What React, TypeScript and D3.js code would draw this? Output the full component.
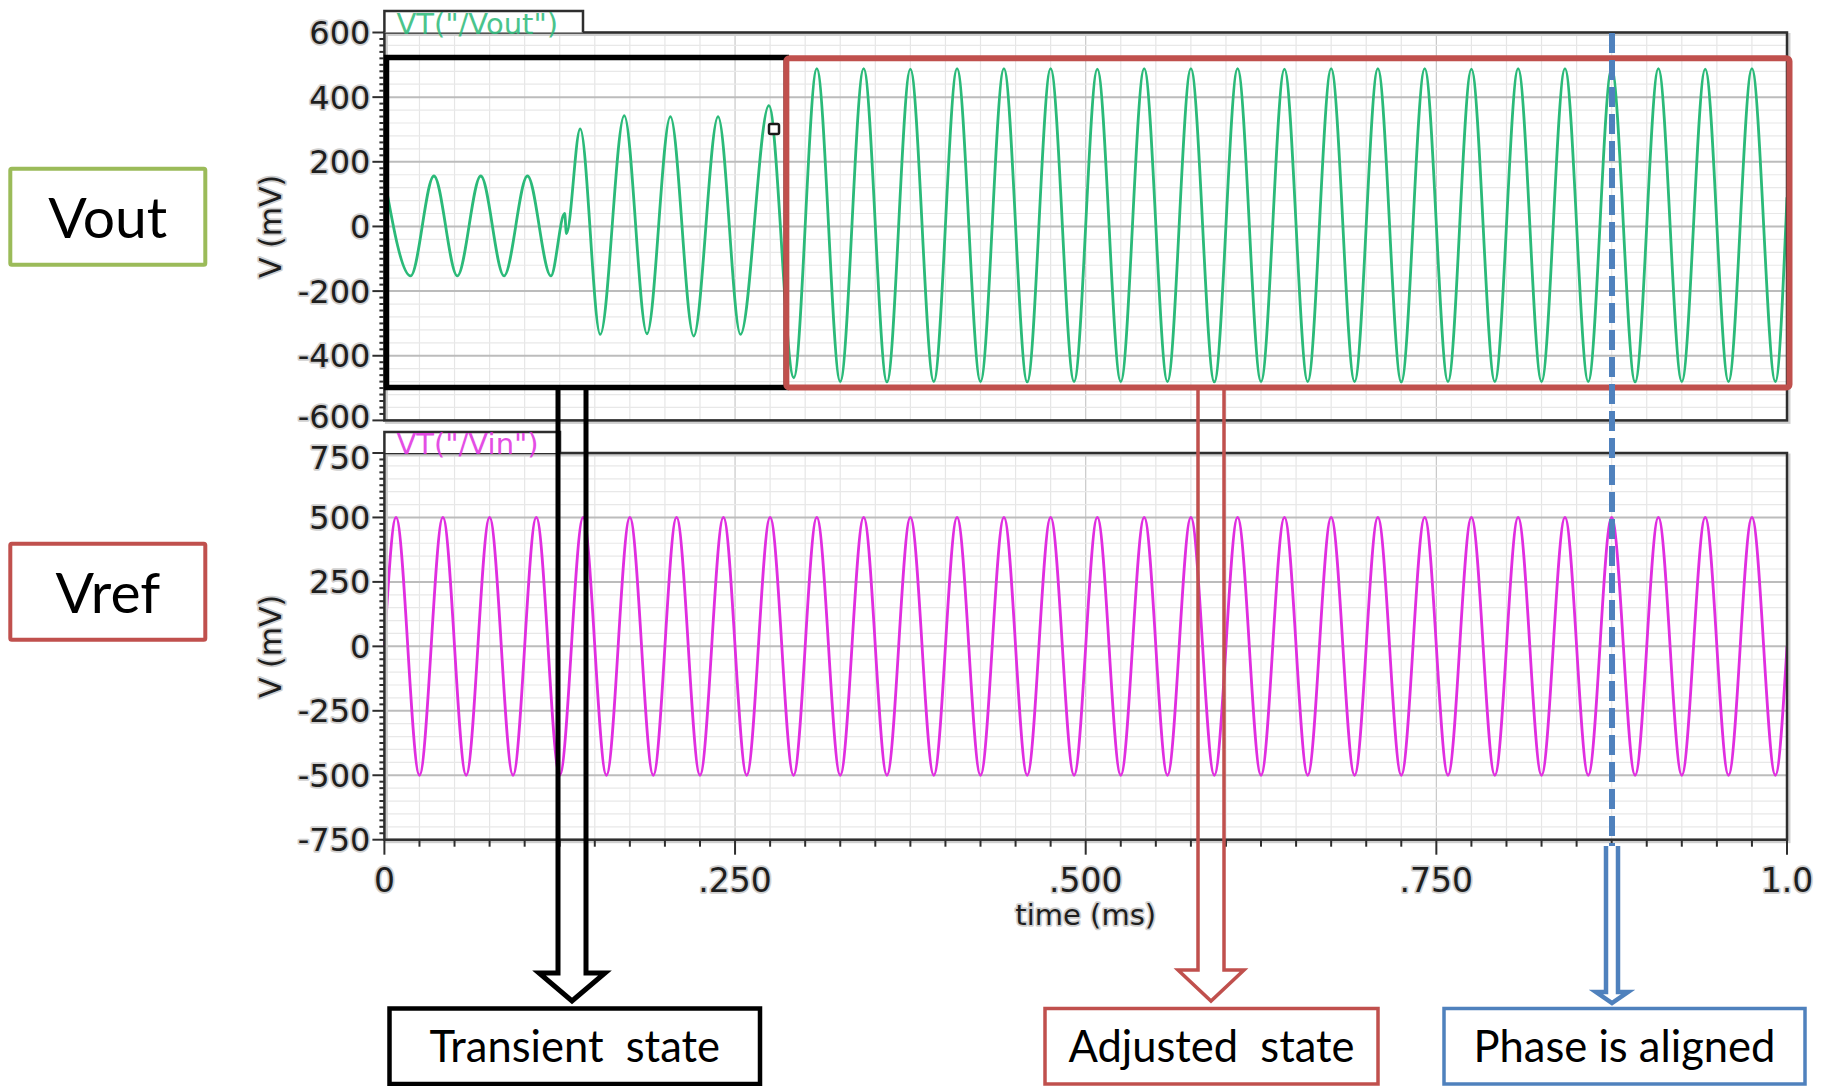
import React from 'react';
import * as d3 from 'd3';

// Vref (VT("/Vin")) : extrema, time in ms, value in mV
const vinTime = [
  0, 0.0083, 0.025, 0.0417, 0.0583, 0.075, 0.0917, 0.1083, 0.125, 0.1417, 0.1583,
  0.175, 0.1917, 0.2083, 0.225, 0.2417, 0.2583, 0.275, 0.2917, 0.3083, 0.325,
  0.3417, 0.3583, 0.375, 0.3917, 0.4083, 0.425, 0.4417, 0.4583, 0.475, 0.4917,
  0.5083, 0.525, 0.5417, 0.5583, 0.575, 0.5917, 0.6083, 0.625, 0.6417, 0.6583,
  0.675, 0.6917, 0.7083, 0.725, 0.7417, 0.7583, 0.775, 0.7917, 0.8083, 0.825,
  0.8417, 0.8583, 0.875, 0.8917, 0.9083, 0.925, 0.9417, 0.9583, 0.975, 0.9917, 1.0,
];
const vinValue = [
  0, 500, -500, 500, -500, 500, -500, 500, -500, 500, -500,
  500, -500, 500, -500, 500, -500, 500, -500, 500, -500,
  500, -500, 500, -500, 500, -500, 500, -500, 500, -500,
  500, -500, 500, -500, 500, -500, 500, -500, 500, -500,
  500, -500, 500, -500, 500, -500, 500, -500, 500, -500,
  500, -500, 500, -500, 500, -500, 500, -500, 500, -500, 0,
];

// Vout (VT("/Vout")) : extrema
const voutTime = [
  0, 0.0187, 0.0353, 0.052, 0.0687, 0.0853, 0.102, 0.1187, 0.1285, 0.1298,
  0.1396, 0.1539, 0.171, 0.1872, 0.2039, 0.2205, 0.2379, 0.2539, 0.2741, 0.2919,
  0.3083, 0.325, 0.3417, 0.3583, 0.375, 0.3917, 0.4083, 0.425, 0.4417, 0.4583,
  0.475, 0.4917, 0.5083, 0.525, 0.5417, 0.5583, 0.575, 0.5917, 0.6083, 0.625,
  0.6417, 0.6583, 0.675, 0.6917, 0.7083, 0.725, 0.7417, 0.7583, 0.775, 0.7917,
  0.8083, 0.825, 0.8417, 0.8583, 0.875, 0.8917, 0.9083, 0.925, 0.9417, 0.9583,
  0.975, 0.9917, 1.0,
];
const voutValue = [
  150, -153, 156, -153, 156, -153, 156, -153, 40, -22,
  302, -334, 343, -332, 340, -339, 340, -334, 374, -468,
  488, -480, 488, -481, 487, -480, 488, -480, 488, -481,
  488, -480, 487, -480, 488, -480, 488, -481, 488, -480,
  487, -480, 488, -480, 488, -481, 488, -480, 487, -480,
  488, -480, 488, -480, 488, -481, 488, -480, 487, -480,
  488, -480, 90,
];

const topTicks = [-600, -400, -200, 0, 200, 400, 600];
const bottomTicks = [-750, -500, -250, 0, 250, 500, 750];
const timeTicks = [0, 0.25, 0.5, 0.75, 1.0];
const timeTickLabels = ['0', '.250', '.500', '.750', '1.0'];
const sideLabels = ['Vout', 'Vref'];
const noteLabels = ['Transient  state', 'Adjusted  state', 'Phase is aligned'];

const W = 1821;
const H = 1086;
const CHART_FONT = '"DejaVu Sans", Verdana, sans-serif';
const NOTE_FONT = 'Lato, "Open Sans", sans-serif';
const GREEN = '#2bba79';
const MAGENTA = '#e02ee0';
const RED = '#c0504d';
const BLUE = '#4f81bd';
const OLIVE = '#9bbb59';

const x = d3.scaleLinear().domain([0, 1]).range([384.4, 1787]);
const yTop = d3.scaleLinear().domain([-600, 600]).range([420.4, 32.5]);
const yBot = d3.scaleLinear().domain([-750, 750]).range([839.7, 453]);

const haloText = {
  fill: '#1e1e1e',
  stroke: '#d0d0d0',
  strokeWidth: 3.5,
  paintOrder: 'stroke' as const,
  strokeLinejoin: 'round' as const,
};

type PanelProps = {
  y: d3.ScaleLinear<number, number>;
  ticks: number[];
  tickStep: number;
  gridStep: number;
  times: number[];
  values: number[];
  color: string;
  tabLabel: string;
  tabRight: number;
  tabTop: number;
  showTimeAxis: boolean;
  labelNudge: (v: number) => number;
};

function Panel({ y, ticks, tickStep, gridStep, times, values, color, tabLabel, tabRight, tabTop, showTimeAxis, labelNudge }: PanelProps) {
  const [lo, hi] = y.domain();
  const left = x(0);
  const right = x(1);
  const top = y(hi);
  const bottom = y(lo);
  const minorY = d3.range(lo, hi + 0.001, gridStep).filter(v => !ticks.includes(v));
  const tickY = d3.range(lo, hi + 0.001, tickStep);
  const minorX = d3.range(0, 1.0001, 0.025);
  const isMajor = (t: number) => Math.abs(t * 4 - Math.round(t * 4)) < 1e-6;
  const line = d3
    .line<number>()
    .x(i => x(times[i]))
    .y(i => y(values[i]))
    .curve(d3.curveMonotoneX);
  const idx = d3.range(times.length);

  return (
    <g>
      <rect x={left} y={top} width={right - left} height={bottom - top} fill="#fff" />
      {minorX.map(t => (
        <line key={'vx' + t} x1={x(t)} x2={x(t)} y1={top} y2={bottom}
          stroke={isMajor(t) ? '#c8c8c8' : '#e6e6e6'} strokeWidth={1.2} />
      ))}
      {minorY.map(v => (
        <line key={'my' + v} x1={left} x2={right} y1={y(v)} y2={y(v)} stroke="#e8e8e8" strokeWidth={1.2} />
      ))}
      {ticks.map(v => (
        <line key={'gy' + v} x1={left} x2={right} y1={y(v)} y2={y(v)} stroke="#bcbcbc" strokeWidth={2} />
      ))}
      <path d={line(idx) ?? ''} fill="none" stroke={color} strokeWidth={2.8} strokeLinejoin="round" />
      {/* frame with tab */}
      <rect x={left + 2} y={top + 2} width={right - left} height={bottom - top} fill="none" stroke="#cfcfcf" strokeWidth={3} />
      <rect x={left} y={top} width={right - left} height={bottom - top} fill="none" stroke="#2e2e2e" strokeWidth={2.5} />
      <path d={`M${left},${top} V${tabTop} H${tabRight} V${top}`} fill="#fff" stroke="#2e2e2e" strokeWidth={2.5} />
      <text x={left + 12} y={top + 1} fontFamily={CHART_FONT} fontSize={29} fill={color} opacity={0.85}>{tabLabel}</text>
      {/* y axis */}
      {tickY.map(v => (
        <line key={'ty' + v} x1={left - (ticks.includes(v) ? 12 : 5)} x2={left} y1={y(v)} y2={y(v)} stroke="#2e2e2e" strokeWidth={2} />
      ))}
      {ticks.map(v => (
        <text key={'ly' + v} x={left - 14} y={y(v) + labelNudge(v)} dy="0.36em" textAnchor="end" fontFamily={CHART_FONT} fontSize={32} {...haloText}>
          {v}
        </text>
      ))}
      <text transform={`translate(281,${y(0)}) rotate(-90)`} textAnchor="middle" fontFamily={CHART_FONT} fontSize={30} {...haloText}>
        V (mV)
      </text>
      {showTimeAxis && (
        <g>
          {minorX.map(t => (
            <line key={'tx' + t} x1={x(t)} x2={x(t)} y1={bottom} y2={bottom + (isMajor(t) ? 15 : 7)} stroke="#2e2e2e" strokeWidth={2} />
          ))}
          {timeTicks.map((t, i) => (
            <text key={'lx' + t} x={x(t)} y={892} textAnchor="middle" fontFamily={CHART_FONT} fontSize={33} {...haloText}>
              {timeTickLabels[i]}
            </text>
          ))}
          <text x={x(0.5)} y={925} textAnchor="middle" fontFamily={CHART_FONT} fontSize={29} {...haloText}>
            time (ms)
          </text>
        </g>
      )}
    </g>
  );
}

function blockArrow(cx: number, top: number, headTop: number, tip: number, half: number, headHalf: number) {
  return `M${cx - half},${top} V${headTop} H${cx - headHalf} L${cx},${tip} L${cx + headHalf},${headTop} H${cx + half} V${top}`;
}

export default function App() {
  return (
    <svg width={W} height={H} viewBox={`0 0 ${W} ${H}`} style={{ position: 'absolute', left: 0, top: 0, background: '#fff' }}>
      <rect width={W} height={H} fill="#fff" />

      <Panel y={yTop} ticks={topTicks} tickStep={20} gridStep={40} times={voutTime} values={voutValue}
        color={GREEN} tabLabel={'VT("/Vout")'} tabRight={583} tabTop={11} showTimeAxis={false}
        labelNudge={v => (v === -600 ? -4 : 0)} />
      <Panel y={yBot} ticks={bottomTicks} tickStep={25} gridStep={50} times={vinTime} values={vinValue}
        color={MAGENTA} tabLabel={'VT("/Vin")'} tabRight={560} tabTop={432} showTimeAxis={true}
        labelNudge={v => (v === 750 ? 4 : 0)} />

      {/* cursor marker */}
      <rect x={769} y={124} width={10} height={10} rx={1.5} fill="#fff" stroke="#1a1a1a" strokeWidth={2.5} />

      {/* side labels */}
      <rect x={10.3} y={168.7} width={195} height={96} fill="#fff" stroke={OLIVE} strokeWidth={4} rx={1.5} />
      <text x={107.8} y={238} textAnchor="middle" fontFamily={NOTE_FONT} fontSize={57} fill="#000">{sideLabels[0]}</text>
      <rect x={10.3} y={543.7} width={195} height={96} fill="#fff" stroke={RED} strokeWidth={4} rx={1.5} />
      <text x={107.8} y={613} textAnchor="middle" fontFamily={NOTE_FONT} fontSize={57} fill="#000">{sideLabels[1]}</text>

      {/* annotation regions */}
      <rect x={386.5} y={57.5} width={399.8} height={330} fill="none" stroke="#000" strokeWidth={5.5} />
      <rect x={786.3} y={58.3} width={1003.2} height={329.2} rx={3} fill="none" stroke={RED} strokeWidth={6} />

      {/* arrows */}
      <path d={blockArrow(572, 390, 973, 1001, 14, 33)} fill="none" stroke="#000" strokeWidth={5} />
      <path d={blockArrow(1211, 390, 970, 1001, 13, 33)} fill="none" stroke={RED} strokeWidth={3.5} />
      <line x1={1612} x2={1612} y1={33} y2={846} stroke={BLUE} strokeWidth={6} strokeDasharray="20 7" />
      <path d={blockArrow(1612, 846, 992, 1003, 6, 16)} fill="#fff" stroke={BLUE} strokeWidth={4.5} />

      {/* bottom notes */}
      <rect x={389.5} y={1008.5} width={370.5} height={75.5} fill="#fff" stroke="#000" strokeWidth={4.5} />
      <text x={574.7} y={1062} textAnchor="middle" fontFamily={NOTE_FONT} fontSize={43.5} fill="#000" style={{ whiteSpace: 'pre' }}>
        {noteLabels[0]}
      </text>
      <rect x={1045} y={1008.5} width={333} height={75.5} fill="#fff" stroke={RED} strokeWidth={3.5} />
      <text x={1211.5} y={1062} textAnchor="middle" fontFamily={NOTE_FONT} fontSize={43.5} fill="#000" style={{ whiteSpace: 'pre' }}>
        {noteLabels[1]}
      </text>
      <rect x={1444} y={1008.5} width={361} height={75.5} fill="#fff" stroke={BLUE} strokeWidth={3.5} />
      <text x={1624.5} y={1062} textAnchor="middle" fontFamily={NOTE_FONT} fontSize={43.5} fill="#000" style={{ whiteSpace: 'pre' }}>
        {noteLabels[2]}
      </text>
    </svg>
  );
}
